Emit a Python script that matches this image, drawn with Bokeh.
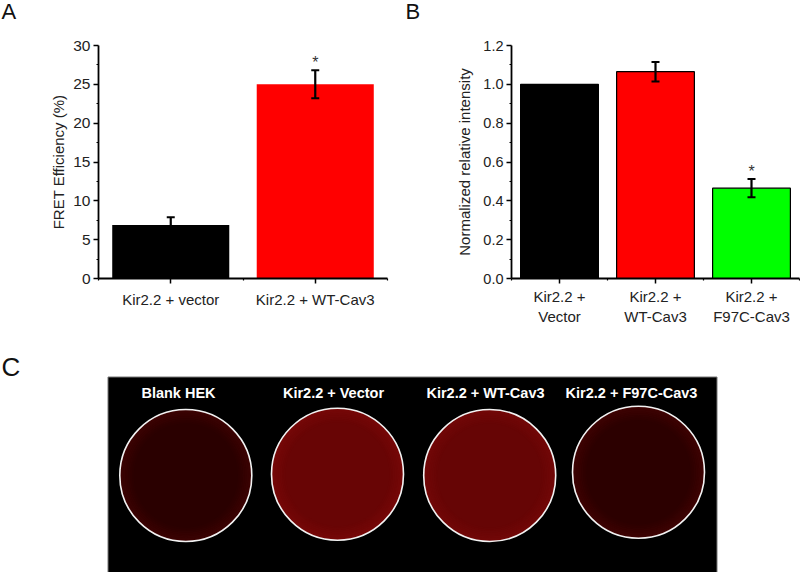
from bokeh.plotting import figure
from bokeh.layouts import column, row
from bokeh.models import (ColumnDataSource, FixedTicker, Range1d, Whisker, TeeHead)
from bokeh.core.properties import value
from bokeh.embed import file_html
from bokeh.resources import INLINE

FONT = "Liberation Sans"

# Panel letters
panel_letters = ["A", "B"]
panel_letter_x = [1, 405]
panel_letter_y = [11, 11]

# Panel A
a_labels = ["Kir2.2 + vector", "Kir2.2 + WT-Cav3"]
a_values = [6.9, 25.0]
a_errors = [1.0, 1.8]
a_colors = ["#000000", "#ff0000"]
a_yticks = [0, 5, 10, 15, 20, 25, 30]

# Panel B
b_labels = ["Kir2.2 +\nVector", "Kir2.2 +\nWT-Cav3", "Kir2.2 +\nF97C-Cav3"]
b_values = [1.0, 1.065, 0.465]
b_errors = [0.0, 0.05, 0.047]
b_colors = ["#000000", "#ff0000", "#00ff00"]
b_yticks = [0, 0.2, 0.4, 0.6, 0.8, 1.0, 1.2]

# Panel C
c_titles = ["Blank HEK", "Kir2.2 + Vector", "Kir2.2 + WT-Cav3", "Kir2.2 + F97C-Cav3"]
c_rim = [(60, 3, 3), (118, 8, 8), (114, 8, 8), (62, 3, 3)]
c_core = [(42, 0, 0), (104, 5, 5), (102, 5, 5), (44, 0, 0)]
c_cx = [185.3, 337.0, 489.2, 638.0]
c_cy = [475.0, 473.7, 475.0, 471.7]
c_title_x = [178, 333, 485, 631]
c_title_y = [392.5, 392.5, 392.5, 392.5]


def bar_panel(width, height, left, right, top, bottom, n, ymax, values, errors, colors,
              labels, yticks, yminor, ylabel, fmt, bar_line, xsize, ysize, lsize, standoff, xstand):
    p = figure(width=width, height=height, output_backend="svg", toolbar_location=None,
               x_range=Range1d(0.5, n + 0.5), y_range=Range1d(0, ymax),
               min_border_left=left, min_border_right=right, min_border_top=top,
               min_border_bottom=bottom, outline_line_color=None, background_fill_color="white",
               border_fill_color="white", tools="")
    p.grid.visible = False
    xs = list(range(1, n + 1))
    src = ColumnDataSource(dict(x=xs, top=values, color=colors))
    p.vbar(x="x", top="top", bottom=0, width=0.81, fill_color="color", source=src,
           line_color="black" if bar_line else None, line_width=1.2)
    err = ColumnDataSource(dict(
        x=[x for x, e in zip(xs, errors) if e > 0],
        upper=[v + e for v, e in zip(values, errors) if e > 0],
        lower=[v - e for v, e in zip(values, errors) if e > 0]))
    p.add_layout(Whisker(base="x", upper="upper", lower="lower", source=err, level="annotation",
                         line_color="black", line_width=2.2,
                         upper_head=TeeHead(size=8, line_width=2, line_color="black"),
                         lower_head=TeeHead(size=8, line_width=2, line_color="black")))
    xa, ya = p.xaxis[0], p.yaxis[0]
    xa.ticker = FixedTicker(ticks=xs, minor_ticks=[i + 0.5 for i in range(0, n + 1)])
    xa.major_label_overrides = {i + 1: s for i, s in enumerate(labels)}
    ya.ticker = FixedTicker(ticks=yticks, minor_ticks=yminor)
    ya.major_label_overrides = {t: fmt.format(t) for t in yticks}
    ya.axis_label = ylabel
    ya.axis_label_text_font = FONT
    ya.axis_label_text_font_style = "normal"
    ya.axis_label_text_font_size = lsize
    ya.axis_label_text_color = "#222222"
    ya.axis_label_standoff = standoff
    for ax in (xa, ya):
        ax.axis_line_width = 1.8
        ax.axis_line_color = "black"
        ax.major_tick_line_width = 1.5
        ax.minor_tick_line_width = 1.2
        ax.major_tick_line_color = "black"
        ax.minor_tick_line_color = "black"
        ax.major_tick_out = 5
        ax.major_tick_in = 0
        ax.minor_tick_out = 2
        ax.minor_tick_in = 0
        ax.major_label_text_font = FONT
        ax.major_label_text_color = "#222222"
    xa.major_label_text_font_size = xsize
    ya.major_label_text_font_size = ysize
    xa.major_label_standoff = xstand
    ya.major_label_standoff = 3
    return p


HEADER = 34

header = figure(width=800, height=HEADER, output_backend="svg", toolbar_location=None, tools="",
                x_range=Range1d(0, 800), y_range=Range1d(HEADER, 0), min_border=0,
                outline_line_color=None, x_axis_type=None, y_axis_type=None,
                background_fill_color="white", border_fill_color="white")
header.grid.visible = False
header.text(x=panel_letter_x, y=panel_letter_y, text=panel_letters, text_font=value(FONT),
            text_font_size="22px", text_color="#111111", text_align="left",
            text_baseline="alphabetic")

pa = bar_panel(400, 340 - HEADER, 98, 13, 44 - HEADER, 62, 2, 30, a_values, a_errors, a_colors,
               a_labels, a_yticks, [2.5 + 5 * i for i in range(6)], "FRET Efficiency (%)", "{:d}",
               False, "15px", "15.5px", "15px", 3, 7)
pa.text(x=[2], y=[27.75], text=["*"], text_font=value(FONT), text_font_size="16px",
        text_align="center", text_baseline="middle", text_color="#333333")

pb = bar_panel(400, 340 - HEADER, 111, 1, 45 - HEADER, 62, 3, 1.2, b_values, b_errors, b_colors,
               b_labels, b_yticks, [0.1 + 0.2 * i for i in range(6)],
               "Normalized relative intensity", "{:.1f}", True, "15px", "14.5px", "15px", 7, 4)
pb.text(x=[3], y=[0.55], text=["*"], text_font=value(FONT), text_font_size="16px",
        text_align="center", text_baseline="middle", text_color="#333333")

pc = figure(width=800, height=232, output_backend="svg", toolbar_location=None, tools="",
            x_range=Range1d(0, 800), y_range=Range1d(572, 340), min_border=0,
            outline_line_color=None, x_axis_type=None, y_axis_type=None,
            background_fill_color="white", border_fill_color="white")
pc.grid.visible = False
pc.quad(left=[107.5], right=[716.5], top=[376.5], bottom=[580], fill_color="black",
        line_color="#777777", line_width=1)
STEPS = 8
for s in range(STEPS + 1):
    t = s / STEPS
    r = 66 - 14 * t
    colors = ["#%02x%02x%02x" % tuple(int(a + (b - a) * t) for a, b in zip(rim, core))
              for rim, core in zip(c_rim, c_core)]
    pc.circle(x=c_cx, y=c_cy, radius=r, fill_color=colors, line_color=None)
pc.circle(x=c_cx, y=c_cy, radius=66, fill_color=None, line_color="#f2f2f2", line_width=1.6)
pc.text(x=c_title_x, y=c_title_y, text=c_titles, text_font=value(FONT), text_font_size="14.5px",
        text_font_style="bold", text_color="white", text_align="center", text_baseline="middle")
pc.text(x=[1], y=[366], text=["C"], text_font=value(FONT), text_font_size="26px",
        text_color="#111111", text_align="left", text_baseline="alphabetic")

layout = column(header, row(pa, pb, spacing=0), pc, spacing=0)
open("out.html", "w").write(file_html(layout, INLINE))
